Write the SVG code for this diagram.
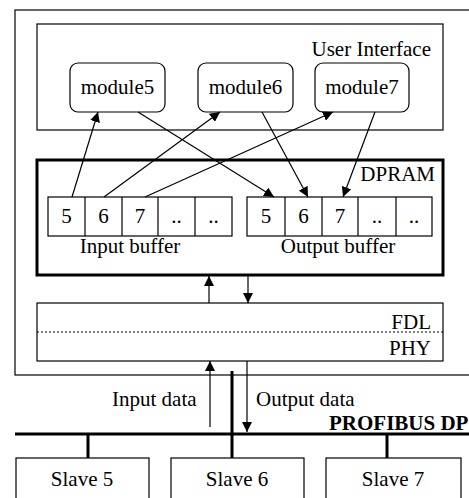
<svg xmlns="http://www.w3.org/2000/svg" width="469" height="498" viewBox="0 0 469 498">
<defs>
<style>
text{font-family:"Liberation Serif","Times New Roman",serif;font-size:21px;fill:#000}
.box{fill:#fff;stroke:#000;stroke-width:1.2}
.thick{fill:#fff;stroke:#000;stroke-width:3}
.ln{stroke:#000;stroke-width:1.2;fill:none}
.bus{stroke:#000;stroke-width:3;fill:none}
.mid{text-anchor:middle}
.end{text-anchor:end}
</style>
<marker id="ah" viewBox="0 0 10 10" refX="10" refY="5" markerWidth="10" markerHeight="10" markerUnits="userSpaceOnUse" orient="auto">
<path d="M0,0 L10,5 L0,10 z" fill="#000"/>
</marker>
</defs>
<rect width="469" height="498" fill="#fff"/>
<g id="outer"><rect class="box" x="15" y="10" width="470" height="365"/></g>
<g id="user-interface">
<rect class="box" x="37" y="24" width="406" height="106"/>
<text class="end" x="431" y="56">User Interface</text>
</g>
<g id="module5"><rect class="box" x="70" y="63" width="95" height="49" rx="8"/><text class="mid" x="117.5" y="94">module5</text></g>
<g id="module6"><rect class="box" x="198" y="63" width="95" height="49" rx="8"/><text class="mid" x="245.5" y="94">module6</text></g>
<g id="module7"><rect class="box" x="315" y="63" width="94" height="49" rx="8"/><text class="mid" x="362" y="94">module7</text></g>
<g id="dpram">
<rect class="thick" x="37" y="160" width="406" height="115"/>
<text class="end" x="435" y="181">DPRAM</text>
</g>
<g id="input-buffer">
<rect class="box" x="48" y="197" width="184" height="39"/>
<path class="ln" d="M85,197V236M122,197V236M158,197V236M195,197V236"/>
<text class="mid" x="66.5" y="223">5</text>
<text class="mid" x="103.5" y="223">6</text>
<text class="mid" x="140" y="223">7</text>
<text class="mid" x="176.5" y="223">..</text>
<text class="mid" x="213.5" y="223">..</text>
<text class="mid" x="130" y="253">Input buffer</text>
</g>
<g id="output-buffer">
<rect class="box" x="247" y="197" width="185" height="39"/>
<path class="ln" d="M285,197V236M322,197V236M358,197V236M396,197V236"/>
<text class="mid" x="266" y="223">5</text>
<text class="mid" x="303.5" y="223">6</text>
<text class="mid" x="340" y="223">7</text>
<text class="mid" x="377" y="223">..</text>
<text class="mid" x="414" y="223">..</text>
<text class="mid" x="338" y="253">Output buffer</text>
</g>
<g id="fdl-phy">
<rect class="box" x="37" y="303" width="406" height="58"/>
<line x1="37" y1="332" x2="443" y2="332" stroke="#000" stroke-width="1" stroke-dasharray="2,2"/>
<text class="end" x="431" y="329">FDL</text>
<text class="end" x="431" y="355">PHY</text>
</g>
<g id="slave5"><rect class="box" x="16" y="458" width="133" height="50"/><text class="mid" x="82" y="486">Slave 5</text></g>
<g id="slave6"><rect class="box" x="171" y="458" width="133" height="50"/><text class="mid" x="237" y="486">Slave 6</text></g>
<g id="slave7"><rect class="box" x="326" y="458" width="135" height="50"/><text class="mid" x="393" y="486">Slave 7</text></g>
<g id="connectors">
<line class="ln" x1="72" y1="197" x2="98" y2="112" marker-end="url(#ah)"/>
<line class="ln" x1="104" y1="197" x2="220" y2="112" marker-end="url(#ah)"/>
<line class="ln" x1="145" y1="197" x2="333" y2="112" marker-end="url(#ah)"/>
<line class="ln" x1="138" y1="112" x2="274" y2="197" marker-end="url(#ah)"/>
<line class="ln" x1="262" y1="112" x2="308" y2="197" marker-end="url(#ah)"/>
<line class="ln" x1="375" y1="112" x2="343" y2="197" marker-end="url(#ah)"/>
<line class="ln" x1="209" y1="303" x2="209" y2="276" marker-end="url(#ah)"/>
<line class="ln" x1="248" y1="276" x2="248" y2="303" marker-end="url(#ah)"/>
<line class="ln" x1="210" y1="427" x2="210" y2="361" marker-end="url(#ah)"/>
<line class="ln" x1="247" y1="361" x2="247" y2="432" marker-end="url(#ah)"/>
<line class="bus" x1="232" y1="371" x2="232" y2="458"/>
<line class="bus" x1="15" y1="434" x2="469" y2="434"/>
<line class="bus" x1="88" y1="434" x2="88" y2="458"/>
<line class="bus" x1="387" y1="434" x2="387" y2="458"/>
</g>
<text x="112" y="406">Input data</text>
<text x="256" y="406">Output data</text>
<text x="329" y="430" font-weight="bold">PROFIBUS DP</text>
</svg>
